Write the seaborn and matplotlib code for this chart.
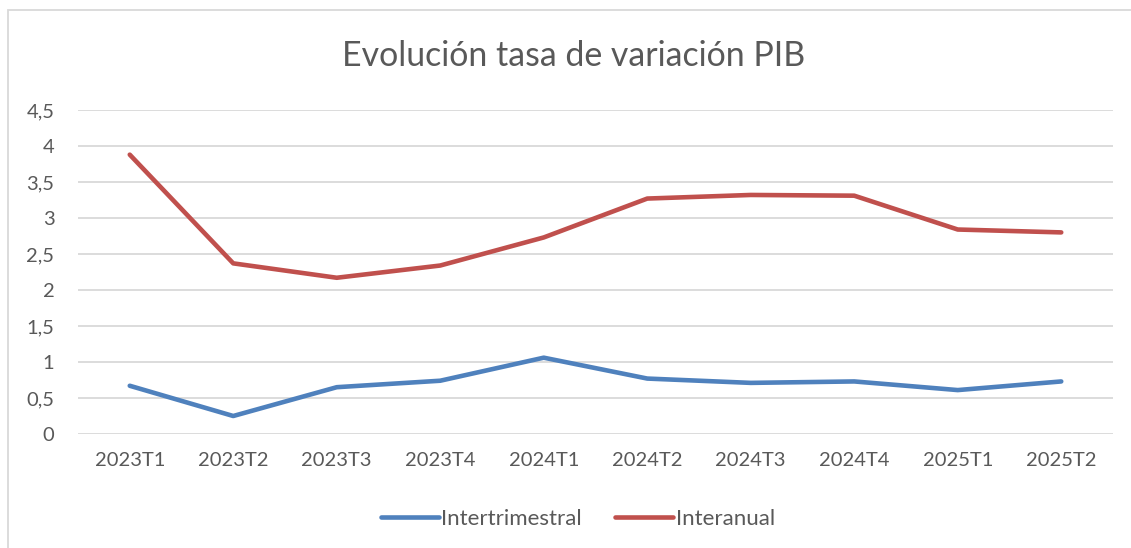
import pandas as pd
import numpy as np
import matplotlib
matplotlib.use("Agg")
import matplotlib.pyplot as plt
import seaborn as sns
from matplotlib.ticker import FuncFormatter
from matplotlib.patches import Rectangle

# datos
trimestres = ['2023T1', '2023T2', '2023T3', '2023T4', '2024T1',
              '2024T2', '2024T3', '2024T4', '2025T1', '2025T2']
intertrimestral = [0.67, 0.25, 0.65, 0.74, 1.06, 0.77, 0.71, 0.73, 0.61, 0.73]
interanual = [3.88, 2.37, 2.17, 2.34, 2.73, 3.27, 3.32, 3.31, 2.84, 2.80]

df = pd.DataFrame({'trimestre': trimestres * 2,
                   'valor': intertrimestral + interanual,
                   'serie': ['Intertrimestral'] * 10 + ['Interanual'] * 10})
df['x'] = np.tile(np.arange(len(trimestres)), 2)

sns.set_style("white")
plt.rcParams['font.family'] = ['Lato', 'DejaVu Sans']

W, H = 1131, 548
fig = plt.figure(figsize=(W / 100, H / 100), dpi=100)
ax = fig.add_axes([78 / W, (H - 434) / H, (1113 - 78) / W, (434 - 110) / H])

colores = {'Intertrimestral': '#4F81BD', 'Interanual': '#C0504D'}
sns.lineplot(data=df, x='x', y='valor', hue='serie', palette=colores,
             linewidth=3.3, ax=ax, legend=False, solid_capstyle='round')

ax.set_xlim(-0.5, len(trimestres) - 0.5)
ax.set_ylim(0, 4.5)
ax.set_yticks(np.arange(0, 4.51, 0.5))
ax.yaxis.set_major_formatter(FuncFormatter(lambda v, p: ('%g' % v).replace('.', ',')))
ax.set_xticks(range(len(trimestres)))
ax.set_xticklabels(trimestres)
ax.set_xlabel('')
ax.set_ylabel('')
ax.grid(axis='y', color='#D9D9D9', linewidth=1.3)
ax.grid(axis='x', visible=False)
ax.set_axisbelow(True)
for s in ax.spines.values():
    s.set_visible(False)
ax.tick_params(axis='both', length=0, labelsize=14.5, labelcolor='#595959')
ax.tick_params(axis='y', pad=17)
ax.tick_params(axis='x', pad=13)

fig.text(574 / W, 1 - 56 / H, 'Evolución tasa de variación PIB', ha='center', va='center',
         fontsize=24.4, color='#595959')

handles = [plt.Line2D([], [], color=colores[k], linewidth=3.3, solid_capstyle='round')
           for k in ['Intertrimestral', 'Interanual']]
leg = fig.legend(handles, ['Intertrimestral', 'Interanual'], loc='center',
                 bbox_to_anchor=(578 / W, 1 - 519 / H), ncol=2, frameon=False,
                 fontsize=16, handlelength=2.6, handletextpad=0.12, columnspacing=1.5)
for t in leg.get_texts():
    t.set_color('#595959')

fig.patches.append(Rectangle((7.5 / W, -0.1), 1.2, 1.1 - 10.5 / H, transform=fig.transFigure,
                             fill=False, edgecolor='#D9D9D9', linewidth=1.3))

fig.savefig('out.png', dpi=100)
